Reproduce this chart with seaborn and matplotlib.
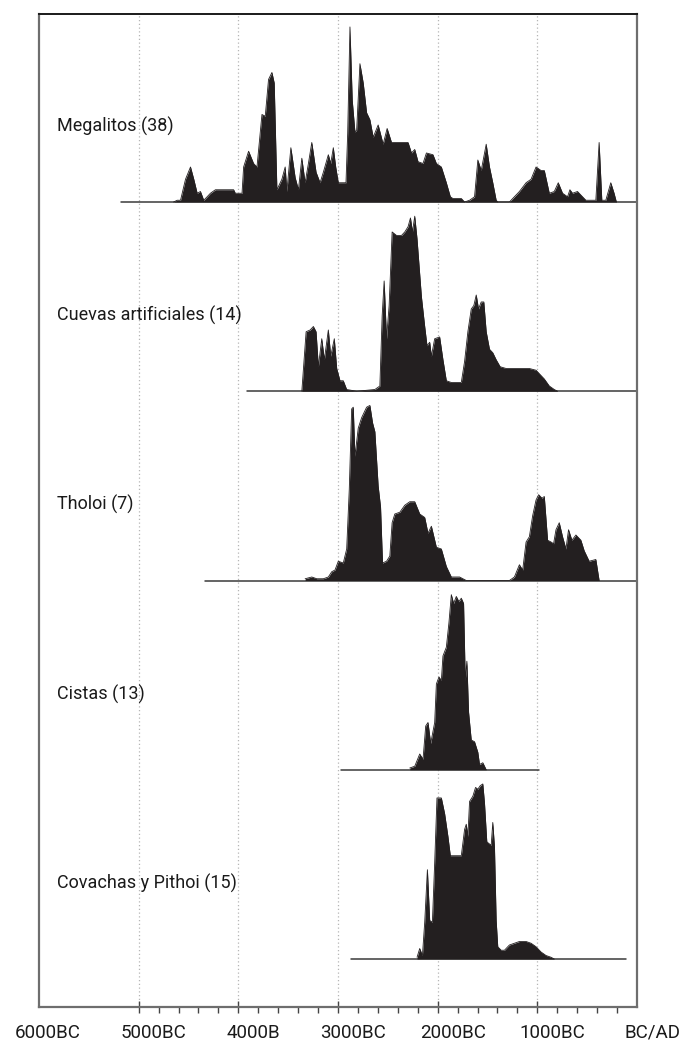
import numpy as np
import pandas as pd
import matplotlib
matplotlib.use("Agg")
import matplotlib.pyplot as plt
import seaborn as sns
from matplotlib.transforms import ScaledTranslation

# ---------------- data ----------------
categories = ["Megalitos (38)", "Cuevas artificiales (14)", "Tholoi (7)",
              "Cistas (13)", "Covachas y Pithoi (15)"]
tick_years = [6000, 5000, 4000, 3000, 2000, 1000, 0]
tick_labels = ["6000BC", "5000BC", "4000B", "3000BC", "2000BC", "1000BC", "BC/AD"]

# time span (years BC) covered by each baseline
megalitos_span = [5180, 10]
cuevas_span = [3913, 10]
tholoi_span = [4330, 10]
cistas_span = [2973, 980]
covachas_span = [2873, 113]

# relative summed probability (max = 100), years BC
megalitos_years = [4650, 4613, 4580, 4530, 4480, 4447, 4413, 4380, 4347, 4313, 4280, 4230,
                   4047, 4030, 3963, 3947, 3897, 3847, 3813, 3763, 3730, 3697, 3663, 3640,
                   3613, 3563, 3530, 3513, 3473, 3430, 3397, 3363, 3330, 3297, 3263, 3220,
                   3180, 3147, 3097, 3073, 3047, 3023, 2997, 2920, 2903, 2880, 2857, 2830,
                   2813, 2780, 2747, 2713, 2680, 2647, 2597, 2547, 2507, 2463, 2453, 2297,
                   2263, 2230, 2197, 2147, 2113, 2047, 2013, 1963, 1913, 1873, 1847, 1763,
                   1730, 1680, 1630, 1597, 1563, 1513, 1480, 1447, 1413, 1397, 1280, 1247,
                   1180, 1113, 1063, 1013, 963, 930, 880, 830, 790, 747, 697, 673, 647,
                   597, 547, 513, 413, 380, 353, 313, 263, 230, 207]
megalitos_values = [0, 1, 1, 13, 20, 13, 5, 6, 1, 3, 5, 7,
                    7, 5, 5, 20, 29, 22, 20, 50, 49, 70, 74, 68,
                    7, 13, 20, 6, 31, 14, 7, 25, 11, 22, 34, 17,
                    11, 17, 27, 22, 31, 20, 11, 11, 39, 100, 58, 40,
                    41, 79, 68, 51, 47, 37, 44, 33, 42, 34, 34, 34,
                    28, 30, 23, 22, 28, 27, 22, 20, 11, 3, 2, 2,
                    0, 1, 3, 24, 18, 33, 20, 11, 1, 0, 0, 2,
                    6, 11, 13, 20, 18, 18, 5, 6, 11, 5, 3, 7, 5,
                    6, 3, 1, 1, 34, 1, 1, 11, 5, 0]

cuevas_years = [3363, 3320, 3280, 3247, 3220, 3197, 3163, 3137, 3097, 3073, 3037, 3013,
                2980, 2947, 2913, 2813, 2630, 2580, 2557, 2537, 2513, 2487, 2457, 2413,
                2363, 2330, 2297, 2273, 2253, 2230, 2207, 2163, 2130, 2107, 2080, 2063,
                2030, 1980, 1947, 1913, 1863, 1830, 1763, 1730, 1697, 1663, 1637, 1613,
                1590, 1563, 1537, 1513, 1480, 1447, 1413, 1373, 1313, 1247, 1180, 1080,
                1013, 980, 930, 880, 830, 797]
cuevas_values = [0, 34, 35, 37, 34, 14, 30, 18, 35, 20, 30, 13,
                 6, 6, 1, 0, 1, 3, 43, 63, 30, 49, 91, 89,
                 89, 91, 94, 99, 91, 100, 87, 54, 37, 26, 28, 20,
                 30, 31, 18, 6, 5, 5, 5, 17, 34, 47, 49, 55,
                 47, 51, 51, 34, 24, 22, 18, 14, 13, 13, 13, 13,
                 12, 10, 7, 3, 1, 0]

tholoi_years = [3330, 3263, 3213, 3147, 3097, 3063, 3030, 2997, 2947, 2913, 2887, 2863,
                2847, 2830, 2797, 2763, 2713, 2680, 2653, 2630, 2597, 2573, 2553, 2513,
                2480, 2457, 2430, 2380, 2330, 2280, 2230, 2180, 2130, 2097, 2063, 2013,
                1963, 1913, 1863, 1780, 1713, 1280, 1230, 1180, 1147, 1113, 1080, 1047,
                1013, 987, 953, 930, 897, 863, 837, 813, 780, 747, 713, 687, 653, 613,
                563, 530, 480, 413, 380]
tholoi_values = [1, 2, 1, 1, 2, 5, 6, 11, 10, 18, 52, 98,
                 99, 71, 87, 93, 99, 100, 90, 85, 54, 42, 10, 11,
                 14, 33, 38, 39, 43, 45, 45, 38, 36, 27, 31, 19,
                 18, 8, 2, 2, 0, 0, 2, 9, 6, 22, 25, 37,
                 46, 49, 47, 48, 23, 22, 21, 29, 33, 25, 18, 29, 23, 26,
                 23, 17, 11, 12, 0]

cistas_years = [2280, 2230, 2180, 2147, 2120, 2097, 2070, 2030, 2013, 1987, 1963, 1947,
                1913, 1887, 1863, 1840, 1813, 1787, 1763, 1740, 1723, 1707, 1690, 1663,
                1630, 1597, 1580, 1547, 1513]
cistas_values = [1, 2, 9, 6, 25, 27, 15, 27, 49, 53, 51, 65,
                 70, 84, 100, 95, 99, 96, 98, 95, 51, 62, 33, 17,
                 16, 10, 3, 4, 0]

covachas_years = [2207, 2180, 2153, 2130, 2103, 2080, 2053, 2030, 2007, 1963, 1930, 1897,
                  1873, 1830, 1763, 1730, 1713, 1697, 1680, 1647, 1620, 1597, 1573, 1547,
                  1530, 1507, 1487, 1463, 1447, 1430, 1413, 1397, 1363, 1330, 1280, 1230,
                  1180, 1113, 1063, 1013, 963, 913, 863, 830]
covachas_values = [1, 6, 2, 21, 51, 22, 21, 55, 92, 92, 83, 70,
                   59, 59, 59, 74, 77, 70, 90, 93, 98, 97, 99, 100,
                   89, 67, 66, 65, 78, 64, 22, 7, 5, 5, 8, 9,
                   10, 10, 9, 7, 4, 2, 1, 0]

series_years = [megalitos_years, cuevas_years, tholoi_years, cistas_years, covachas_years]
series_values = [megalitos_values, cuevas_values, tholoi_values, cistas_values, covachas_values]
series_spans = [megalitos_span, cuevas_span, tholoi_span, cistas_span, covachas_span]

# ---------------- style ----------------
sns.set_style("white")
plt.rcParams['font.family'] = ['Roboto', 'DejaVu Sans']

FILL = "#231f20"
ROW_SCALE = 0.925 / 100.0     # peak height in row units
LABEL_UP = 0.40

fig = plt.figure(figsize=(6.8, 10.41), dpi=100)
ax = fig.add_axes([39 / 680, 34 / 1041, 598 / 680, 993 / 1041])

frames = []
n = len(categories)
for i, (cat, yrs, vals, span) in enumerate(zip(categories, series_years, series_values, series_spans)):
    base = n - 1 - i
    yrs = np.asarray(yrs, float)
    vals = np.asarray(vals, float)
    top = base + vals * ROW_SCALE
    ax.fill_between(yrs, base, top, color=FILL, linewidth=0, zorder=3)
    frames.append(pd.DataFrame({"year": yrs, "y": top, "series": cat}))
    bl = pd.DataFrame({"year": span, "y": [base, base]})
    sns.lineplot(data=bl, x="year", y="y", ax=ax, color="#3a3a3a", linewidth=1.1,
                 estimator=None, zorder=2)
    ax.text(5820, base + LABEL_UP, cat, fontsize=13, color="#1a1a1a",
            ha="left", va="center", zorder=4)

long_df = pd.concat(frames, ignore_index=True)
sns.lineplot(data=long_df, x="year", y="y", units="series", estimator=None,
             color=FILL, linewidth=0.6, ax=ax, zorder=3, sort=False)

# gridlines
for yv in tick_years[1:-1]:
    ax.axvline(yv, color="#b5b5b5", linestyle=(0, (1, 2)), linewidth=0.9, zorder=0)

ax.set_xlim(6000, 0)
ax.set_ylim(-48 / 189.25, (993 - 48) / 189.25)
ax.set_yticks([])
ax.set_xlabel("")
ax.set_ylabel("")

ax.set_xticks(tick_years)
ax.set_xticklabels(tick_labels, fontsize=13.5, color="#1a1a1a")
minor = [y for y in range(4800, 0, -200) if y % 1000 != 0]
ax.set_xticks(minor, minor=True)
ax.tick_params(axis="x", which="major", bottom=True, direction="inout", length=8, width=1.0,
               color="#444444", pad=8)
ax.tick_params(axis="x", which="minor", bottom=True, direction="out", length=4, width=1.0,
               color="#444444")
mt = ax.xaxis.get_major_ticks()
mt[0].tick1line.set_visible(False)
mt[-1].tick1line.set_visible(False)
for k, lbl in enumerate(ax.get_xticklabels()):
    dx = 9 if k == 0 else 15
    lbl.set_transform(lbl.get_transform() + ScaledTranslation(dx / 100, 0, fig.dpi_scale_trans))

for side in ["left", "right", "bottom"]:
    ax.spines[side].set_color("#6e6e6e")
    ax.spines[side].set_linewidth(1.6)
    ax.spines[side].set_visible(True)
ax.spines["top"].set_color("#1a1a1a")
ax.spines["top"].set_linewidth(1.4)
ax.spines["top"].set_visible(True)

fig.savefig("out.png", dpi=100, facecolor="white")
